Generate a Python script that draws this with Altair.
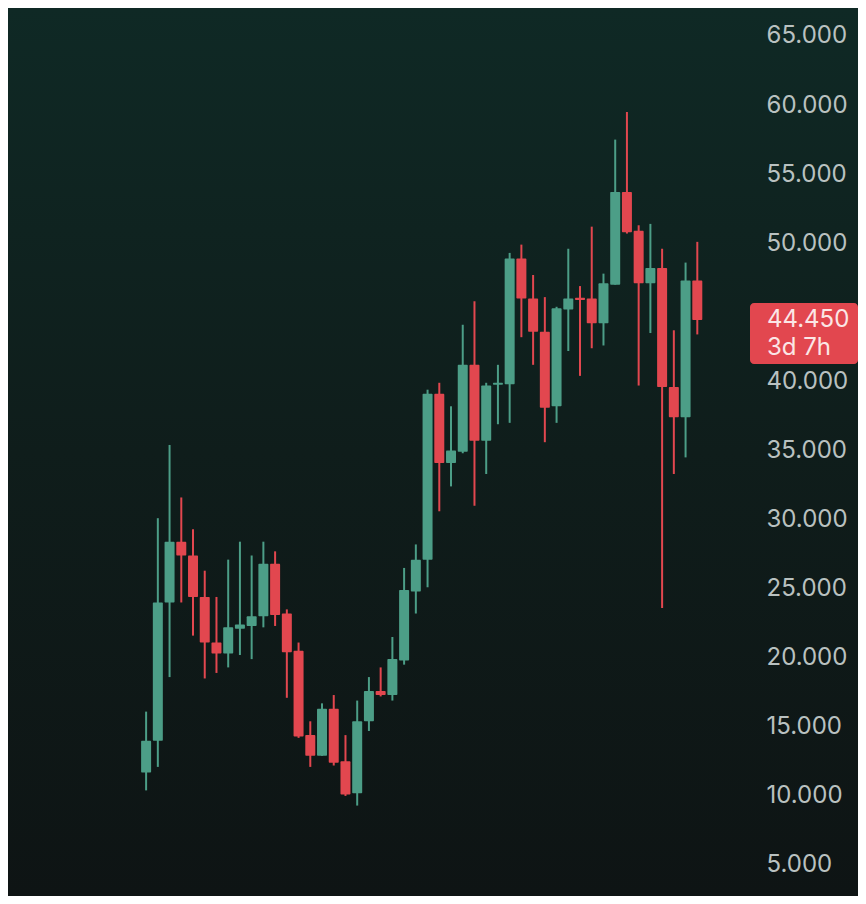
import altair as alt
import pandas as pd

opens = [11.7, 14.0, 24.0, 28.4, 27.4, 24.4, 21.1, 20.3, 22.1, 22.3, 23.0, 26.8,
         23.2, 20.5, 14.4, 12.9, 16.3, 12.5, 10.2, 15.4, 17.6, 17.3, 19.8, 24.8,
         27.1, 39.1, 34.1, 34.9, 41.2, 35.7, 39.75, 39.8, 48.9, 46.0, 43.6, 38.2,
         45.2, 46.05, 46.0, 44.2, 47.0, 53.7, 50.9, 47.1, 48.2, 39.6, 37.4, 47.3]
highs = [16.1, 30.1, 35.4, 31.6, 29.3, 26.3, 24.4, 27.1, 28.4, 27.4, 28.4, 27.7,
         23.5, 21.1, 15.4, 16.7, 17.3, 14.4, 16.9, 18.6, 19.3, 21.5, 26.5, 28.2,
         39.4, 39.9, 38.2, 44.1, 45.8, 39.9, 41.2, 49.3, 49.9, 47.7, 46.1, 45.4,
         49.6, 46.9, 51.2, 47.8, 57.5, 59.5, 51.3, 51.4, 49.6, 43.7, 48.6, 50.1]
lows = [10.4, 12.1, 18.6, 24.0, 21.6, 18.5, 18.9, 19.3, 20.2, 19.9, 22.2, 22.3,
        17.1, 14.2, 12.1, 12.9, 12.2, 10.0, 9.3, 14.7, 17.2, 16.9, 19.5, 23.2,
        25.1, 30.6, 32.4, 34.8, 31.0, 33.3, 36.9, 37.0, 43.2, 41.2, 35.6, 37.0,
        42.2, 40.4, 42.4, 42.6, 47.0, 50.7, 39.7, 43.5, 23.6, 33.3, 34.5, 43.4]
closes = [14.0, 24.0, 28.4, 27.4, 24.4, 21.1, 20.3, 22.2, 22.4, 23.0, 26.8, 23.1,
          20.4, 14.3, 12.9, 16.3, 12.4, 10.1, 15.4, 17.6, 17.3, 19.9, 24.9, 27.1,
          39.1, 34.1, 35.0, 41.2, 35.7, 39.7, 39.9, 48.9, 46.0, 43.6, 38.1, 45.3,
          46.0, 45.9, 44.2, 47.1, 53.7, 50.8, 47.1, 48.2, 39.6, 37.4, 47.3, 44.45]

y_tick_shown = [5, 10, 15, 20, 25, 30, 35, 40, 50, 55, 60, 65]
last_price = 44.45
last_label = "44.450"
countdown = "3d 7h"

GREEN = "#4c9e87"
RED = "#e2474f"
TEXT = "#b9c1c0"

df = pd.DataFrame({
    "i": list(range(len(opens))),
    "open": opens, "high": highs, "low": lows, "close": closes,
})
label_df = pd.DataFrame({"price": [last_price], "label": [last_label], "cd": [countdown]})

W, H = 750, 888
xs = alt.Scale(domain=[-11.35, 51.75], nice=False, zero=False)
ys = alt.Scale(domain=[2.756, 67.025], nice=False, zero=False)

bg = alt.Chart(pd.DataFrame({"a": [0]})).mark_rect(
    fill=alt.Gradient(
        gradient="linear",
        stops=[alt.GradientStop(color="#0f2925", offset=0),
               alt.GradientStop(color="#0f1d1b", offset=0.5),
               alt.GradientStop(color="#0e1414", offset=1)],
        x1=0, x2=0, y1=0, y2=1,
    )
).encode(x=alt.value(0), x2=alt.value(850), y=alt.value(0), y2=alt.value(H))

color = alt.condition("datum.close >= datum.open", alt.value(GREEN), alt.value(RED))

wicks = alt.Chart(df).mark_rule(strokeWidth=2).encode(
    x=alt.X("i:Q", scale=xs, axis=None),
    y=alt.Y("low:Q", scale=ys,
            axis=alt.Axis(orient="right", values=y_tick_shown, format=".3f",
                          labelColor=TEXT, labelFont="Inter", labelFontSize=24,
                          labelPadding=8, ticks=False, domain=False, grid=False,
                          labelAlign="left", labelBaseline="middle", title=None,
                          zindex=1)),
    y2="high:Q",
    color=color,
)

bodies = alt.Chart(df).mark_bar(size=10, cornerRadius=1).encode(
    x=alt.X("i:Q", scale=xs),
    y=alt.Y("open:Q", scale=ys),
    y2="close:Q",
    color=color,
)

box = alt.Chart(label_df).mark_rect(color=RED, cornerRadius=4, yOffset=-17, y2Offset=44).encode(
    x=alt.value(742), x2=alt.value(850),
    y=alt.Y("price:Q", scale=ys), y2="price:Q",
)
t1 = alt.Chart(label_df).mark_text(align="left", baseline="middle", font="Inter",
                                   fontSize=24, color="#fbe6e6").encode(
    x=alt.value(759), y=alt.Y("price:Q", scale=ys), text="label:N")
t2 = alt.Chart(label_df).mark_text(align="left", baseline="middle", font="Inter",
                                   fontSize=24, color="#fbe6e6", dy=28).encode(
    x=alt.value(759), y=alt.Y("price:Q", scale=ys), text="cd:N")

chart = alt.layer(bg, wicks, bodies, box, t1, t2).properties(
    width=W, height=H, padding=0, background="#0e1414"
).configure_view(strokeWidth=0)

chart.save("out.html", embed_options={"renderer": "svg", "actions": False})
